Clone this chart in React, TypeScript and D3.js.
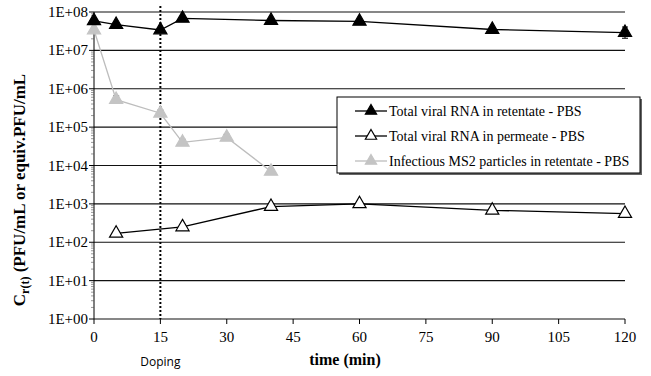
import * as d3 from 'd3';
import { useEffect, useRef } from 'react';

const retentateTime = [0, 5, 15, 20, 40, 60, 90, 120];
const retentateRNA = [5.9e7, 4.7e7, 3.4e7, 6.8e7, 6.0e7, 5.7e7, 3.5e7, 2.9e7];
const retentateErr = [0.15, 0.1, 0.1, 0.12, 0.05, 0.05, 0.08, 0.4];

const permeateTime = [5, 20, 40, 60, 90, 120];
const permeateRNA = [1.7e2, 2.5e2, 8.5e2, 1.0e3, 6.8e2, 5.6e2];

const infectiousTime = [0, 5, 15, 20, 30, 40];
const infectiousMS2 = [3.4e7, 5.2e5, 2.3e5, 4.0e4, 5.4e4, 7.0e3];
const infectiousErr = [0.05, 0.25, 0.2, 0.2, 0.2, 0.2];

const xTicks = [0, 15, 30, 45, 60, 75, 90, 105, 120];
const yTicks = [1e0, 1e1, 1e2, 1e3, 1e4, 1e5, 1e6, 1e7, 1e8];
const dopingTime = 15;

const legendLabels = [
    'Total viral RNA in retentate - PBS',
    'Total viral RNA in permeate - PBS',
    'Infectious MS2 particles in retentate - PBS',
];

const App = () => {
    const svgRef = useRef(null);

    useEffect(() => {
        const width = 651;
        const height = 376;
        const svg = d3.select(svgRef.current);
        svg.selectAll('*').remove();
        svg.attr('width', width).attr('height', height);

        const x = d3.scaleLinear().domain([0, 120]).range([94, 625]);
        const y = d3.scaleLog().domain([1, 1e8]).range([319, 12]);
        const serif = 'Liberation Serif';

        // grid lines
        svg.append('g')
            .selectAll('line')
            .data(yTicks)
            .enter()
            .append('line')
            .attr('x1', x(0))
            .attr('x2', x(120))
            .attr('y1', (d) => y(d))
            .attr('y2', (d) => y(d))
            .attr('stroke', '#111')
            .attr('stroke-width', 1.1);

        // y axis with minor ticks
        const yAxis = svg.append('g');
        yAxis.append('line').attr('x1', x(0)).attr('x2', x(0)).attr('y1', y(1e8)).attr('y2', y(1)).attr('stroke', '#000');
        const minor = [];
        for (let e = 0; e < 8; e++) for (let m = 2; m < 10; m++) minor.push(m * 10 ** e);
        yAxis.selectAll('line.minor')
            .data(minor)
            .enter()
            .append('line')
            .attr('class', 'minor')
            .attr('x1', x(0) - 3)
            .attr('x2', x(0))
            .attr('y1', (d) => y(d))
            .attr('y2', (d) => y(d))
            .attr('stroke', '#555')
            .attr('stroke-width', 0.6);
        yAxis.selectAll('line.major')
            .data(yTicks)
            .enter()
            .append('line')
            .attr('class', 'major')
            .attr('x1', x(0) - 5)
            .attr('x2', x(0))
            .attr('y1', (d) => y(d))
            .attr('y2', (d) => y(d))
            .attr('stroke', '#000');
        yAxis.selectAll('text')
            .data(yTicks)
            .enter()
            .append('text')
            .attr('x', x(0) - 6)
            .attr('y', (d) => y(d) + 5)
            .attr('text-anchor', 'end')
            .style('font-family', serif)
            .style('font-size', '15px')
            .text((d) => `1E+0${Math.round(Math.log10(d))}`);

        // x axis ticks
        const xAxis = svg.append('g');
        xAxis.selectAll('line')
            .data(xTicks)
            .enter()
            .append('line')
            .attr('x1', (d) => x(d))
            .attr('x2', (d) => x(d))
            .attr('y1', y(1))
            .attr('y2', y(1) + 5)
            .attr('stroke', '#000');
        xAxis.selectAll('text')
            .data(xTicks)
            .enter()
            .append('text')
            .attr('x', (d) => x(d))
            .attr('y', 342)
            .attr('text-anchor', 'middle')
            .style('font-family', serif)
            .style('font-size', '15px')
            .text((d) => d);

        // doping line
        svg.append('line')
            .attr('x1', x(dopingTime))
            .attr('x2', x(dopingTime))
            .attr('y1', 6)
            .attr('y2', y(1))
            .attr('stroke', '#000')
            .attr('stroke-width', 2)
            .attr('stroke-dasharray', '2,2');
        svg.append('text')
            .attr('x', x(dopingTime))
            .attr('y', 366)
            .attr('text-anchor', 'middle')
            .style('font-family', 'Open Sans')
            .style('font-size', '12px')
            .text('Doping');

        // axis titles
        svg.append('text')
            .attr('x', 345)
            .attr('y', 365)
            .attr('text-anchor', 'middle')
            .style('font-family', serif)
            .style('font-size', '16px')
            .style('font-weight', 'bold')
            .text('time (min)');
        const yTitle = svg.append('text')
            .attr('transform', 'translate(25, 190) rotate(-90)')
            .attr('text-anchor', 'middle')
            .style('font-family', serif)
            .style('font-size', '17px')
            .style('font-weight', 'bold');
        yTitle.append('tspan').text('C');
        yTitle.append('tspan').attr('dy', 4).style('font-size', '12px').text('r(t)');
        yTitle.append('tspan').attr('dy', -4).text(' (PFU/mL or equiv.PFU/mL');

        const tri = d3.symbol(d3.symbolTriangle, 75);
        const line = d3.line().x((d) => x(d[0])).y((d) => y(d[1]));

        const series = [
            { t: retentateTime, v: retentateRNA, err: retentateErr, stroke: '#000', fill: '#000', lineColor: '#000' },
            { t: permeateTime, v: permeateRNA, err: null, stroke: '#000', fill: '#fff', lineColor: '#000' },
            { t: infectiousTime, v: infectiousMS2, err: infectiousErr, stroke: '#c4c4c4', fill: '#c4c4c4', lineColor: '#bdbdbd' },
        ];

        // gray series first so black stays on top
        [series[2], series[1], series[0]].forEach((s) => {
            const pts = s.t.map((t, i) => [t, s.v[i]]);
            const g = svg.append('g');
            g.append('path').attr('d', line(pts)).attr('fill', 'none').attr('stroke', s.lineColor).attr('stroke-width', 1.3);
            if (s.err) {
                pts.forEach((p, i) => {
                    const lo = y(p[1] / (1 + s.err[i]));
                    const hi = y(p[1] * (1 + s.err[i]));
                    const cx = x(p[0]);
                    g.append('line').attr('x1', cx).attr('x2', cx).attr('y1', hi).attr('y2', lo).attr('stroke', '#000').attr('stroke-width', 1);
                    g.append('line').attr('x1', cx - 3).attr('x2', cx + 3).attr('y1', hi).attr('y2', hi).attr('stroke', '#000');
                    g.append('line').attr('x1', cx - 3).attr('x2', cx + 3).attr('y1', lo).attr('y2', lo).attr('stroke', '#000');
                });
            }
            g.selectAll('path.m')
                .data(pts)
                .enter()
                .append('path')
                .attr('class', 'm')
                .attr('d', tri)
                .attr('transform', (d) => `translate(${x(d[0])}, ${y(d[1])})`)
                .attr('fill', s.fill)
                .attr('stroke', s.stroke)
                .attr('stroke-width', 1.2);
        });

        // legend
        const legend = svg.append('g').attr('transform', 'translate(337, 97)');
        legend.append('rect').attr('x', 2).attr('y', 2).attr('width', 303).attr('height', 76).attr('fill', '#666');
        legend.append('rect').attr('width', 303).attr('height', 76).attr('fill', '#fff').attr('stroke', '#000').attr('stroke-width', 1);
        series.forEach((s, i) => {
            const row = legend.append('g').attr('transform', `translate(0, ${14 + i * 25})`);
            row.append('line').attr('x1', 18).attr('x2', 50).attr('y1', 0).attr('y2', 0).attr('stroke', s.lineColor).attr('stroke-width', 1.3);
            row.append('path').attr('d', d3.symbol(d3.symbolTriangle, 55)()).attr('transform', 'translate(34, 0)')
                .attr('fill', s.fill).attr('stroke', s.stroke).attr('stroke-width', 1.2);
            row.append('text')
                .attr('x', 52)
                .attr('y', 5)
                .style('font-family', serif)
                .style('font-size', '14px')
                .text(legendLabels[i]);
        });
    }, []);

    return <svg ref={svgRef} style={{ position: 'absolute', left: 0, top: 0 }} />;
};

export default App;
